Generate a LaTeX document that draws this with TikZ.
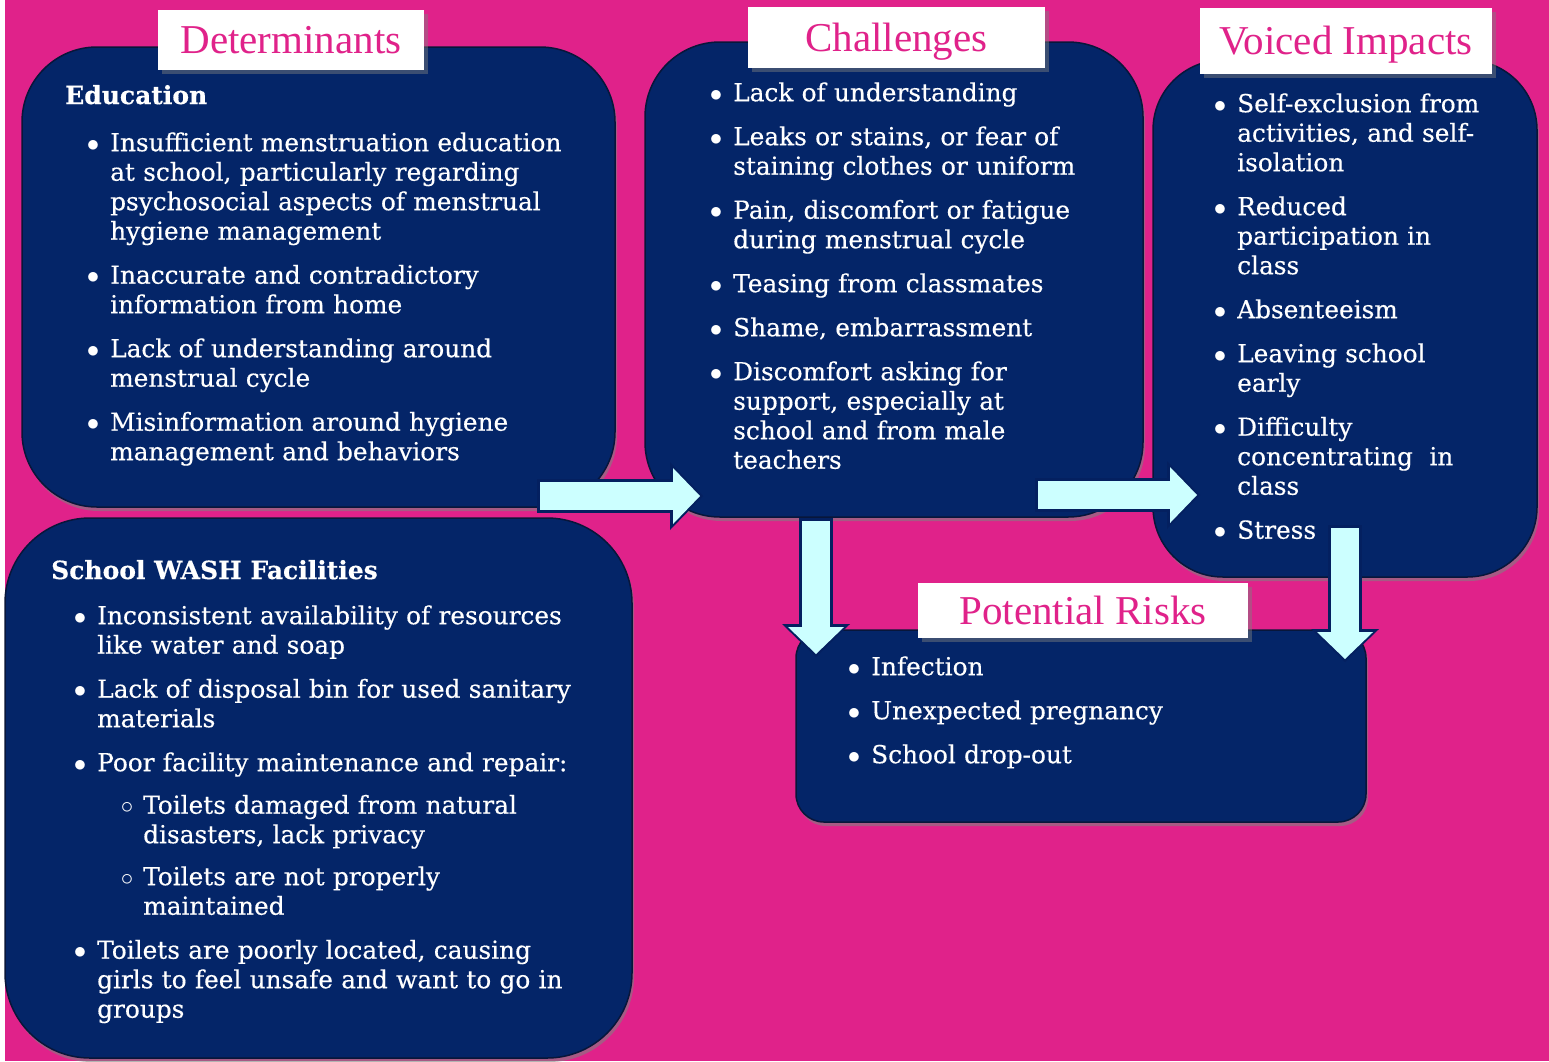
\documentclass[tikz,border=0pt]{standalone}
\usepackage{fontspec}
\setmainfont[FakeBold=0.4]{DejaVu Serif}
\newfontfamily\titlefont{Liberation Serif}
\usepackage{enumitem}
\usetikzlibrary{arrows.meta,shadows}

\definecolor{pinkbg}{RGB}{224,34,138}
\definecolor{panelblue}{RGB}{4,37,104}
\definecolor{paneledge}{RGB}{8,22,58}
\definecolor{flowcyan}{RGB}{204,255,255}
\definecolor{flownavy}{RGB}{4,32,96}

\setlist[itemize,1]{label=$\bullet$, leftmargin=17pt, labelsep=11pt, itemsep=14.5pt, topsep=0pt, parsep=0pt, partopsep=0pt}
\setlist[itemize,2]{label=$\circ$, leftmargin=46pt, labelsep=10pt, itemsep=12.5pt, topsep=13pt, parsep=0pt, partopsep=0pt}

\tikzset{
  panel/.style={fill=panelblue, draw=paneledge, line width=1.5pt,
    drop shadow={shadow xshift=2pt, shadow yshift=-4pt, opacity=0.6}},
  tag/.style={fill=white, text=pinkbg, inner sep=0pt,
    font=\titlefont\fontsize{41}{41}\selectfont, text height=27pt, text depth=0pt,
    drop shadow={shadow xshift=4pt, shadow yshift=-4pt, opacity=0.45}},
  lst/.style={anchor=north west, inner sep=0pt, text=white, text width=560pt,
    font=\fontsize{24.8}{29.5}\selectfont},
  head/.style={anchor=base west, inner sep=0pt, text=white,
    font=\bfseries\fontsize{25}{29.5}\selectfont},
  flow/.style={draw=flowcyan, line width=28pt,
    -{Triangle[width=56pt,length=27pt,line width=0pt]},
    shorten >=3pt, shorten <=3pt,
    preaction={draw=flownavy, line width=34pt,
      -{Triangle[width=68pt,length=33pt,line width=0pt]},
      shorten >=0pt, shorten <=0pt}}
}

\begin{document}
\begin{tikzpicture}[x=1pt,y=-1pt]
  \useasboundingbox (0,0) rectangle (1549,1061);
  % backdrop
  \fill[white] (0,0) rectangle (1549,1061);
  \fill[pinkbg] (5,0) rectangle (1549,1061);

  % rounded panels
  \node[panel, rounded corners=75pt, minimum width=593pt, minimum height=460pt] (edubox) at (318.5,277) {};
  \node[panel, rounded corners=85pt, minimum width=627pt, minimum height=540pt] (washbox) at (318.5,788) {};
  \node[panel, rounded corners=75pt, minimum width=498pt, minimum height=475pt] (chalbox) at (894,279.5) {};
  \node[panel, rounded corners=70pt, minimum width=384pt, minimum height=517pt] (impbox) at (1345,318.5) {};
  \node[panel, rounded corners=28pt, minimum width=570pt, minimum height=192pt] (riskbox) at (1081,726) {};

  % headings on white tags
  \node[tag, minimum width=266pt, minimum height=60pt] (determ) at (291,40) {Determinants};
  \node[tag, minimum width=297pt, minimum height=61pt] (chaltag) at (896.5,37.5) {Challenges};
  \node[tag, minimum width=292pt, minimum height=66pt] (imptag) at (1346,41) {Voiced Impacts};
  \node[tag, minimum width=330pt, minimum height=55pt] (risktag) at (1083,610.5) {Potential Risks};

  % Determinants: education
  \node[head] (eduhead) at (65,104) {Education};
  \node[lst] (edulist) at (93,121.5) {%
    \begin{itemize}
      \item Insufficient menstruation education\\ at school, particularly regarding\\ psychosocial aspects of menstrual\\ hygiene management
      \item Inaccurate and contradictory\\ information from home
      \item Lack of understanding around\\ menstrual cycle
      \item Misinformation around hygiene\\ management and behaviors
    \end{itemize}};

  % Determinants: school WASH
  \node[head] (washhead) at (51,579) {School WASH Facilities};
  \node[lst] (washlist) at (80,594.5) {%
    \begin{itemize}
      \item Inconsistent availability of resources\\ like water and soap
      \item Lack of disposal bin for used sanitary\\ materials
      \item Poor facility maintenance and repair:
      \begin{itemize}
        \item Toilets damaged from natural\\ disasters, lack privacy
        \item Toilets are not properly\\ maintained
      \end{itemize}
      \item Toilets are poorly located, causing\\ girls to feel unsafe and want to go in\\ groups
    \end{itemize}};

  % Challenges
  \node[lst] (challist) at (716,71.5) {%
    \begin{itemize}
      \item Lack of understanding
      \item Leaks or stains, or fear of\\ staining clothes or uniform
      \item Pain, discomfort or fatigue\\ during menstrual cycle
      \item Teasing from classmates
      \item Shame, embarrassment
      \item Discomfort asking for\\ support, especially at\\ school and from male\\ teachers
    \end{itemize}};

  % Voiced impacts
  \node[lst] (implist) at (1220,82.5) {%
    \begin{itemize}
      \item Self-exclusion from\\ activities, and self-\\ isolation
      \item Reduced\\ participation in\\ class
      \item Absenteeism
      \item Leaving school\\ early
      \item Difficulty\\ concentrating\ \ in\\ class
      \item Stress
    \end{itemize}};

  % Potential risks
  \node[lst] (risklist) at (854,645.5) {%
    \begin{itemize}
      \item Infection
      \item Unexpected pregnancy
      \item School drop-out
    \end{itemize}};

  % block arrows between panels
  \coordinate (a1s) at (537,496);  \coordinate (a1e) at (703,496);
  \coordinate (a2s) at (1035,495); \coordinate (a2e) at (1200,495);
  \coordinate (a3s) at (816,518);  \coordinate (a3e) at (816,657);
  \coordinate (a4s) at (1345,525); \coordinate (a4e) at (1345,662);
  \draw[flow] (a1s) -- (a1e);
  \draw[flow] (a2s) -- (a2e);
  \draw[flow] (a3s) -- (a3e);
  \draw[flow] (a4s) -- (a4e);
\end{tikzpicture}
\end{document}
